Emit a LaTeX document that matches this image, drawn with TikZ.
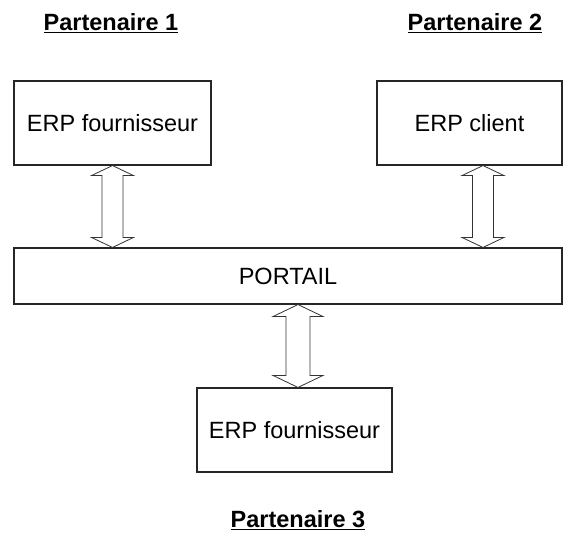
\documentclass[tikz,border=0pt]{standalone}
\usepackage{fontspec}
\setmainfont{Liberation Sans}
\usetikzlibrary{calc}

% hollow double-headed block arrow between two tip points
% #1 upper tip, #2 lower tip, #3 head half-width, #4 shaft half-width, #5 head length
\newcommand\dblblock[5]{%
  \draw[blk] let \p1=(#1), \p2=(#2) in
    (\x1,\y1) -- (\x1+#3,\y1-#5) -- (\x1+#4,\y1-#5) -- (\x1+#4,\y2+#5)
    -- (\x1+#3,\y2+#5) -- (\x1,\y2) -- (\x1-#3,\y2+#5) -- (\x1-#4,\y2+#5)
    -- (\x1-#4,\y1-#5) -- (\x1-#3,\y1-#5) -- cycle;}

\begin{document}
\begin{tikzpicture}[x=1pt,y=-1pt,
  box/.style={draw=black!85, line width=1.1pt, inner sep=0pt,
    font=\fontsize{23.5}{28}\selectfont},
  title/.style={font=\bfseries\fontsize{23.5}{28}\selectfont},
  blk/.style={draw=black!80, line width=0.8pt, fill=white}]
\useasboundingbox (0,0) rectangle (563,538);

% partner headings
\node[title] (p1) at (111,23) {\underline{Partenaire 1}};
\node[title] (p2) at (475,23) {\underline{Partenaire 2}};
\node[title] (p3) at (298,520) {\underline{Partenaire 3}};

% systems
\node[box, minimum width=197pt, minimum height=84pt] (erp1) at (112.5,123) {ERP fournisseur};
\node[box, minimum width=185pt, minimum height=84pt] (erp2) at (469.5,123) {ERP client};
\node[box, minimum width=548pt, minimum height=56pt] (portail) at (288,276) {PORTAIL};
\node[box, minimum width=195pt, minimum height=84pt] (erp3) at (294.5,430) {ERP fournisseur};

% exchanges with the portal
\coordinate (a1t) at (erp1.south);
\coordinate (a1b) at (erp1.south |- portail.north);
\coordinate (a2t) at ($(erp2.south)+(13.5,0)$);
\coordinate (a2b) at (a2t |- portail.north);
\coordinate (a3t) at ($(portail.south -| erp3.north)+(3.5,0)$);
\coordinate (a3b) at (a3t |- erp3.north);
\dblblock{a1t}{a1b}{21pt}{10.5pt}{10pt}
\dblblock{a2t}{a2b}{21pt}{10.5pt}{10pt}
\dblblock{a3t}{a3b}{25pt}{12pt}{12pt}
\end{tikzpicture}
\end{document}
